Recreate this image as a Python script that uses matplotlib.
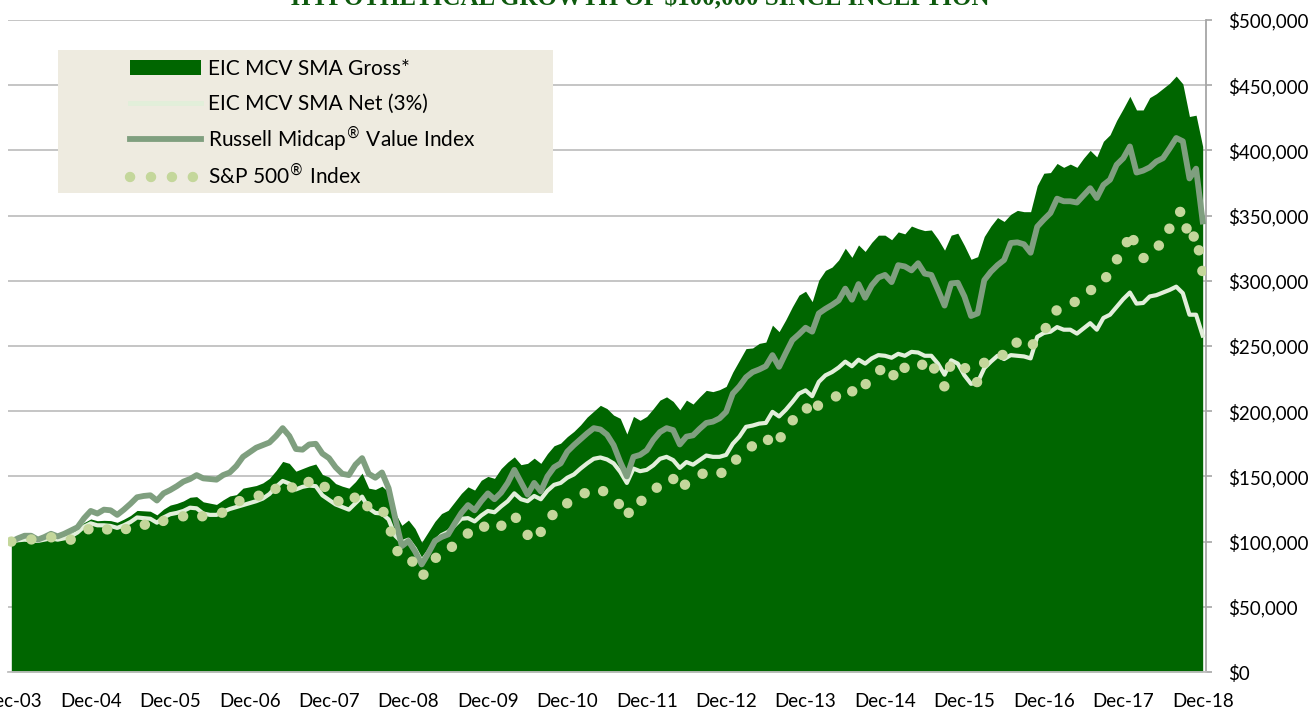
import numpy as np
import pandas as pd
import matplotlib
matplotlib.use("Agg")
import matplotlib.pyplot as plt
from matplotlib.patches import Patch, Rectangle
from matplotlib.lines import Line2D
from matplotlib.ticker import FuncFormatter, MultipleLocator

# growth of $100k, monthly from Dec-03 to Dec-18, in $ thousands
gross = [100, 101.3, 102, 101.8, 101.5, 102.8, 104, 103.3, 104.6, 106.4, 109.7, 114.6,
         117.4, 116, 116.3, 116.1, 114.8, 117.2, 120, 123.9, 123.6, 123.3, 120.5, 124.9,
         128, 129.3, 131.2, 134, 134.5, 130.5, 129.5,
         128.5, 132, 135, 136, 141, 142, 143, 145, 148.5, 154.5, 161.5, 160, 154, 156, 158,
         159.5, 151.5, 149.5, 144.5, 142.5, 141, 146, 152.5, 141, 140, 142.5, 138, 122,
         112.5, 116.5, 110,
         99.5, 107.5, 115.5, 121.5, 124, 130.5, 137, 142, 139.5, 147, 150, 148.5, 156, 161,
         165, 159, 160, 164, 160, 167.5, 173.5, 175.5, 180.5, 184.5, 189.5, 195.5, 200,
         204.5, 202, 197, 194.5,
         182.5, 196, 193, 196, 202, 208.5, 211, 207.5, 201, 208.5, 205.5, 211, 216, 215,
         216.5, 219, 230, 239, 248, 248.5, 252, 253, 266, 261, 270, 280, 289, 292, 284, 300.5,
         308, 310.5, 316, 325, 318, 327.5, 322.5, 329.5, 335, 335, 331.5, 337.5, 336, 342,
         340, 338.5, 339, 332, 323.5, 335, 336.5, 327, 316.5, 318.5, 334, 342, 348.5, 345.5,
         351, 354, 353, 353, 373, 382.5, 383, 390, 387, 389.5, 387, 394, 400, 395, 407, 412,
         423, 432, 441.5, 431, 431, 440.5, 443.5, 447.5, 451.5, 457, 451, 426, 427, 403]

net = [100, 101, 101.5, 101, 100.5, 101.5, 102.5, 101.5, 102.5, 104, 107, 111.5,
       114, 112.5, 112.5, 112, 110.5, 112.5, 115, 118.5, 118, 117.5, 114.5, 118.5,
       121, 122, 123.5, 126, 125.5, 121.5, 120.5,
       120.5, 123, 125, 126.5, 128, 129.5, 131, 133, 136.5, 142, 146.5, 144.5, 140, 142,
       143, 142.5, 135.5, 132, 128.5, 126.5, 124.5, 129.5, 134.5, 125.5, 122, 121.5, 117,
       104.5, 99.5, 101.5, 94.5,
       85, 92, 100, 105, 107.5, 112.5, 117.5, 118, 115.5, 120, 123.5, 122.5, 127, 131, 137,
       132.5, 131, 135, 132.5, 139, 143.5, 145, 149, 151.5, 156, 160, 163.5, 164.5, 163,
       160, 153.5,
       145, 156, 154, 155, 158.5, 163.5, 165, 162.5, 156.5, 161, 159, 162.5, 166, 165, 165,
       166.5, 175, 180.5, 188, 189, 190.5, 191, 199.5, 196, 201, 207, 213.5, 216, 211.5, 222.5,
       227.5, 230, 233.5, 238, 234.5, 239.5, 236.5, 240.5, 243, 242.5, 241, 244, 242.5,
       245.5, 245, 242.5, 242.5, 236.5, 228, 239, 236.5, 227.5, 221, 222, 233, 238, 242.5, 240,
       243, 242.5, 242, 240.5, 257, 260, 261, 264.5, 262.5, 262.5, 259.5, 263.5, 267.5,
       262.5, 271.5, 274, 280, 286, 291, 282.5, 283, 288, 289, 291, 293, 295.5, 290.5, 274,
       274, 258]

russell = [100, 102.5, 104.5, 104.5, 101.5, 103.5, 106, 104, 106, 108.5, 111, 118,
           123.5, 121.5, 124.5, 124, 120.5, 124.5, 129, 134, 135, 135.5, 131.5, 137,
           139.5, 142.5, 146, 148, 151, 148.5, 148,
           147.5, 151, 153, 158, 165, 168.5, 172, 174, 176, 181, 187, 181, 171, 170.5, 174.5,
           175, 167.5, 164, 157, 152, 151, 159, 164, 152, 149, 153, 141, 118, 96.5, 100.5, 92.5,
           82.5, 91, 100.5, 103.5, 105.5, 114, 122, 128, 124, 131, 137, 132.5, 137.5, 145, 155,
           145.5, 136, 145, 138.5, 150, 157, 160, 169, 174, 178.5, 183, 187, 186, 182, 174, 161,
           150, 165, 166.5, 170, 178, 184, 187, 185.5, 174.5, 180.5, 181.5, 186.5, 191, 192,
           194.5, 199.5, 213.5, 219, 226, 230, 232, 234.5, 243, 234, 244.5, 254.5, 259, 264,
           261, 275,
           278.5, 281.5, 285, 294, 285.5, 297.5, 287, 296.5, 302.5, 304.5, 299, 312, 311, 308,
           313.5, 305.5, 304.5, 293, 281, 298, 298.5, 288, 273, 275, 300.5, 307, 312, 316,
           329, 329.5, 328, 321.5, 341.5, 347, 352, 363, 361, 361, 360, 365.5, 371, 363.5,
           373.5, 377.5, 389, 394, 403, 383, 384.5, 387, 391.5, 394, 401.5, 409.5, 407, 378.5,
           386, 345.5]

sp500 = [100,
         101.8, 103.2, 101.7, 100.1, 101.5, 103.4, 100.0, 100.4, 101.5, 103.0, 107.1, 110.7,
         108.0, 110.3, 108.3, 106.2, 109.6, 109.7, 113.8, 112.8, 113.7, 111.8, 116.0, 116.0,
         119.0, 119.4, 120.8, 122.4, 118.9, 119.0, 119.7, 122.6, 125.8, 129.9, 132.4, 134.2,
         136.2, 133.5, 135.0, 140.9, 145.8, 143.3, 138.9, 141.0, 146.2, 148.5, 142.3, 141.3,
         132.8, 128.6, 128.1, 134.4, 136.1, 124.7, 123.7, 125.3, 114.2, 95.0, 88.2, 89.1,
         81.6, 72.9, 79.3, 86.9, 91.8, 92.0, 99.0, 102.5, 106.3, 104.3, 110.5, 112.6,
         108.5, 111.9, 118.6, 120.5, 110.9, 105.1, 112.5, 107.4, 117.0, 121.4, 121.4, 129.5,
         132.6, 137.1, 137.1, 141.2, 139.7, 137.3, 134.6, 127.3, 118.4, 131.3, 131.0, 132.3,
         138.3, 144.2, 149.0, 148.1, 139.2, 144.9, 146.9, 150.3, 154.2, 151.4, 152.3, 153.7,
         161.7, 164.0, 170.2, 173.4, 177.4, 175.1, 184.0, 178.7, 184.2, 192.7, 198.5, 203.5,
         196.4, 205.4, 207.0, 208.5, 213.3, 217.8, 214.8, 223.4, 220.3, 225.6, 231.7, 231.0,
         224.1, 236.9, 233.1, 235.4, 238.5, 233.9, 238.8, 224.5, 218.9, 237.3, 238.0, 234.2,
         222.5, 222.3, 237.4, 238.3, 242.6, 243.3, 252.3, 252.6, 252.6, 248.1, 257.3, 262.4,
         267.4, 278.1, 278.4, 281.2, 285.1, 286.8, 292.8, 293.7, 299.9, 306.8, 316.3, 319.8,
         338.0, 325.5, 317.4, 318.7, 326.3, 328.3, 340.4, 351.6, 353.7, 329.7, 336.3, 306.0]

names = ["EIC MCV SMA Gross*", "EIC MCV SMA Net (3%)",
         "Russell Midcap$^{®}$ Value Index", "S&P 500$^{®}$ Index"]
title = "HYPOTHETICAL GROWTH OF $100,000 SINCE INCEPTION"

months = pd.date_range("2003-12-31", periods=len(gross), freq="ME")
tick_pos = list(range(0, len(months), 12))
tick_lbl = [months[i].strftime("%b-%y") for i in tick_pos]

c_gross = "#006600"
c_net = "#E2EFDA"
c_rus = "#7F9F7F"
c_sp = "#C4D79B"

plt.rcParams["font.family"] = ["Lato", "DejaVu Sans"]

W, H = 1308, 710
fig = plt.figure(figsize=(W / 100, H / 100), dpi=100)
ax = fig.add_axes([8 / W, 1 - 672 / H, (1206 - 8) / W, (672 - 20) / H])

x = np.arange(len(gross))
k = 1000
ax.fill_between(x, 0, np.array(gross) * k, color=c_gross, lw=0, zorder=2)
ax.plot(x, np.array(net) * k, color=c_net, lw=3, solid_joinstyle="round", zorder=3)
ax.plot(x, np.array(russell) * k, color=c_rus, lw=4.2, solid_joinstyle="round", zorder=4)
dots = (0, (0.01, 2.0))
ax.plot(x, np.array(sp500) * k, color=c_sp, lw=7.5, linestyle=dots,
        dash_capstyle="round", zorder=5)

ax.set_xlim(-0.5, len(gross) - 0.5)
ax.set_ylim(0, 500000)
ax.yaxis.set_major_locator(MultipleLocator(50000))
ax.yaxis.set_major_formatter(FuncFormatter(lambda v, p: "$" + format(int(v), ",")))
ax.set_xticks(tick_pos)
ax.set_xticklabels(tick_lbl)

ax.yaxis.tick_right()
ax.yaxis.grid(True, color="#C0C0C0", lw=1.3)
ax.set_axisbelow(True)
for s in ["left", "top"]:
    ax.spines[s].set_visible(False)
ax.spines["right"].set_color("#A6A6A6")
ax.spines["right"].set_linewidth(1.3)
ax.spines["bottom"].set_color("#C0C0C0")
ax.spines["bottom"].set_linewidth(1.3)
ax.tick_params(axis="y", direction="out", length=4, color="#A6A6A6", width=1.2,
               pad=12, labelsize=13.5, left=False, right=True)
ax.tick_params(axis="x", length=0, pad=15, labelsize=13.5)

fig.text(640 / W, 1 - 5 / H, title, ha="center", va="baseline", fontsize=18,
         fontweight="bold", family=["Liberation Serif", "DejaVu Serif"], color="#0E5A0E")

# legend box, one row per series
fig.patches.append(Rectangle((58 / W, 1 - 193 / H), (553 - 58) / W, (193 - 50) / H,
                             transform=fig.transFigure, facecolor="#EEEBE0",
                             edgecolor="none", zorder=1))
handles = [Patch(facecolor=c_gross, edgecolor="none"),
           Line2D([], [], color=c_net, lw=3.5),
           Line2D([], [], color=c_rus, lw=4.2),
           Line2D([], [], color=c_sp, lw=7.5, linestyle=dots, dash_capstyle="round")]
row_y = [69, 104, 139, 175]
for h, name, yy in zip(handles, names, row_y):
    fig.legend([h], [name], loc="center left", bbox_to_anchor=(130 / W, 1 - yy / H),
               bbox_transform=fig.transFigure, frameon=False, fontsize=15,
               handlelength=3.4, handletextpad=0.35, borderpad=0, borderaxespad=0)

fig.savefig("out.png", dpi=100)
